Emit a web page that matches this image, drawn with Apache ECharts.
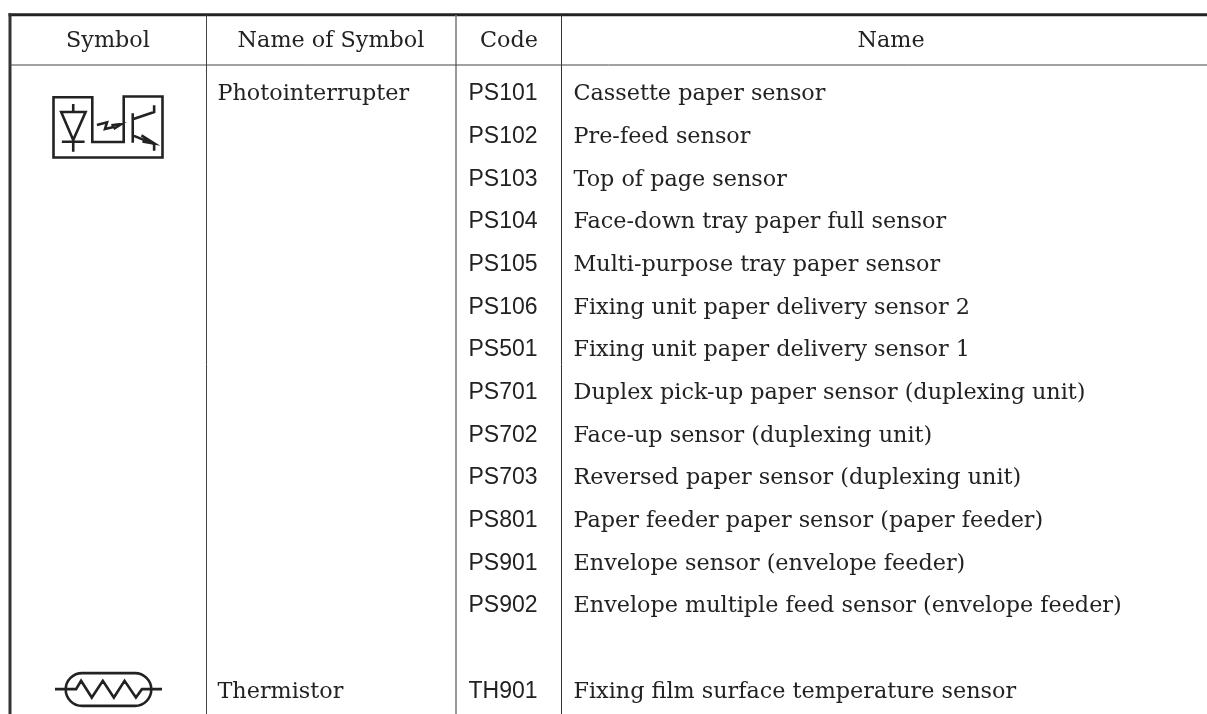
<!DOCTYPE html>
<html lang="en">
<head>
<meta charset="utf-8" />
<title>Symbol table</title>
<script src="https://cdn.jsdelivr.net/npm/echarts@6/dist/echarts.min.js"></script>
<style>
  html,body{margin:0;padding:0;background:#fff;}
  #main{width:1207px;height:714px;}
</style>
</head>
<body>
<div id="main"></div>
<script>
// table content
var headers = ['Symbol', 'Name of Symbol', 'Code', 'Name'];
var symbolNames = ['Photointerrupter', 'Thermistor'];
var symbolNameRows = [0, 14];
var codes = ['PS101', 'PS102', 'PS103', 'PS104', 'PS105', 'PS106', 'PS501', 'PS701', 'PS702', 'PS703', 'PS801', 'PS901', 'PS902', 'TH901'];
var codeRows = [0, 1, 2, 3, 4, 5, 6, 7, 8, 9, 10, 11, 12, 14];
var names = [
  'Cassette paper sensor',
  'Pre-feed sensor',
  'Top of page sensor',
  'Face-down tray paper full sensor',
  'Multi-purpose tray paper sensor',
  'Fixing unit paper delivery sensor 2',
  'Fixing unit paper delivery sensor 1',
  'Duplex pick-up paper sensor (duplexing unit)',
  'Face-up sensor (duplexing unit)',
  'Reversed paper sensor (duplexing unit)',
  'Paper feeder paper sensor (paper feeder)',
  'Envelope sensor (envelope feeder)',
  'Envelope multiple feed sensor (envelope feeder)',
  'Fixing film surface temperature sensor'
];

// layout, x is in pixels of the page, y is in table rows
var rowHeight = 42.67;
var firstRowY = 93;
function rowAt(py){ return (py - firstRowY) / rowHeight; }

var serifFont = '"DejaVu Serif", serif';
var sansFont = '"Liberation Sans", sans-serif';
var serifSize = 22.3;
var sansSize = 23;
var ink = '#222';

var photoPath = 'path://M162 292L278 292L278 426L372 426L372 290L488 290L488 472L162 472Z' +
  'M185 336L258 336L221 420ZM187 425L255 425M221 312L221 336M221 420L221 455' +
  'M292 375L322 367L316 387L345 380M335 376L365 372L342 387L358 376' +
  'M399 340L399 428M399 358L463 336L463 316M399 406L463 432L463 452' +
  'M425 406L463 430L428 424L450 428L432 414L455 427';
var thermPath = 'path://M246 220L404 220C431 220 453 242 453 269C453 296 431 318 404 318L246 318C219 318 197 296 197 269C197 242 219 220 246 220Z' +
  'M165 268L228 268L243 243L275 293L308 243L341 293L373 243L407 293L425 268L485 268';

function textSeries(data, font, size, centered, dy){
  return {
    type: 'scatter',
    silent: true,
    symbolSize: 1,
    itemStyle: {color: 'transparent', opacity: 1},
    label: {
      show: true,
      position: centered ? 'inside' : 'right',
      distance: 0,
      offset: [0, dy],
      fontFamily: font,
      fontSize: size,
      color: ink,
      formatter: function(p){ return p.value[2]; }
    },
    data: data
  };
}

function ruleSeries(a, b, color, width){
  return {
    type: 'line',
    silent: true,
    symbol: 'none',
    lineStyle: {color: color, width: width, cap: 'butt'},
    data: [a, b]
  };
}

// keep aspect, a stretched path symbol gets uneven stroke widths
function iconSeries(path, x, py, w){
  return {
    type: 'scatter',
    silent: true,
    symbol: path,
    symbolKeepAspect: true,
    symbolSize: w,
    itemStyle: {color: 'transparent', borderColor: ink, borderWidth: 2.6, opacity: 1},
    data: [[x, rowAt(py)]]
  };
}

var headerX = [108, 331, 509, 891];
var headerRow = rowAt(40);

var series = [
  ruleSeries([8.5, rowAt(14.7)], [1207, rowAt(14.7)], '#222', 3),
  ruleSeries([10, rowAt(13.2)], [10, rowAt(714)], '#333', 3),
  ruleSeries([206.5, rowAt(15)], [206.5, rowAt(714)], '#444', 1),
  ruleSeries([456, rowAt(15)], [456, rowAt(714)], '#777', 1.5),
  ruleSeries([561.5, rowAt(15)], [561.5, rowAt(714)], '#333', 1),
  ruleSeries([10, rowAt(65)], [1207, rowAt(65)], '#444', 1),
  iconSeries(photoPath, 108, 127, 109),
  iconSeries(thermPath, 108.5, 689.5, 107),
  textSeries(headers.map(function(t, i){ return [headerX[i], headerRow, t]; }), serifFont, serifSize, true, 1.5),
  textSeries(symbolNames.map(function(t, i){ return [217, symbolNameRows[i], t]; }), serifFont, serifSize, false, 1.5),
  textSeries(codes.map(function(t, i){ return [468, codeRows[i], t]; }), sansFont, sansSize, false, 1),
  textSeries(names.map(function(t, i){ return [573, codeRows[i], t]; }), serifFont, serifSize, false, 1.5)
];

var chart = echarts.init(document.getElementById('main'), null, {renderer: 'canvas'});
chart.setOption({
  animation: false,
  backgroundColor: '#fff',
  grid: {left: 0, right: 0, top: 0, bottom: 0},
  xAxis: {type: 'value', min: 0, max: 1207, show: false},
  yAxis: {type: 'value', inverse: true, min: rowAt(0), max: rowAt(714), show: false},
  series: series
});
</script>
</body>
</html>
